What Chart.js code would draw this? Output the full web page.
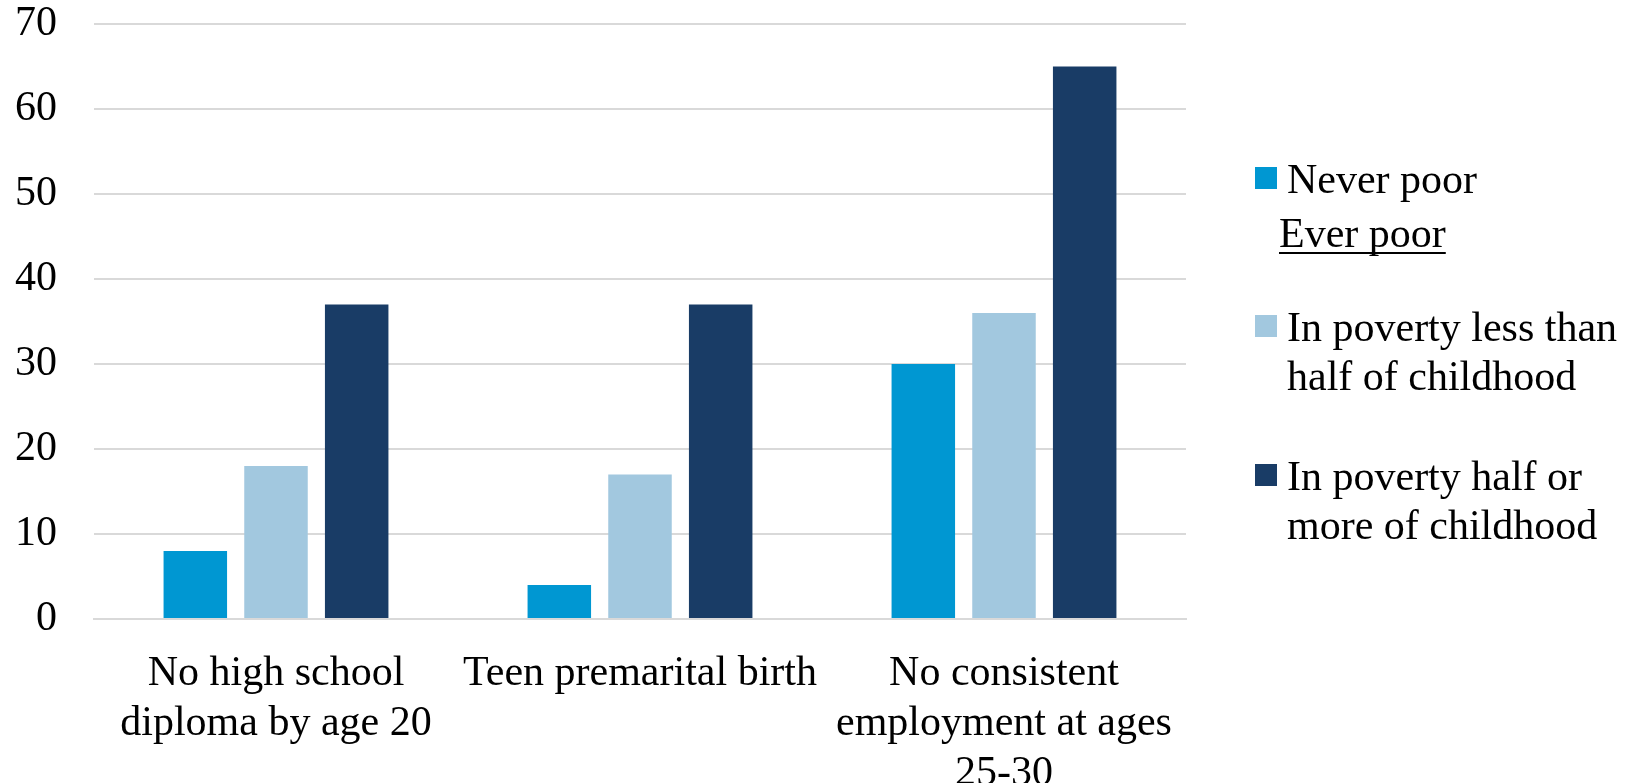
<!DOCTYPE html>
<html>
<head>
<meta charset="utf-8">
<script src="https://cdn.jsdelivr.net/npm/chart.js@4/dist/chart.umd.min.js"></script>
<style>
  html, body { margin: 0; padding: 0; background: #ffffff; overflow: hidden; }
  #wrap { width: 1632px; height: 783px; position: relative; }
</style>
</head>
<body>
<div id="wrap"><canvas id="chart" width="1632" height="783"></canvas></div>
<script>
// Outcome categories (multi-line tick labels)
const categories = [
  ['No high school', 'diploma by age 20'],
  ['Teen premarital birth'],
  ['No consistent', 'employment at ages', '25-30']
];

// Series values (percent)
const neverPoor = [8, 4, 30];
const lessThanHalf = [18, 17, 36];
const halfOrMore = [37, 37, 65];

// Series names as shown in the legend (line-wrapped)
const seriesNames = [
  ['Never poor'],
  ['In poverty less than', 'half of childhood'],
  ['In poverty half or', 'more of childhood']
];
const legendHeading = 'Ever poor';

// Y-axis ticks
const yTicks = [0, 10, 20, 30, 40, 50, 60, 70];

const colors = ['#0097d2', '#a2c8df', '#193c66'];
const FONT = '"Liberation Serif", "Times New Roman", serif';

// Legend drawn to the right of the plot: coloured squares, a heading, wrapped labels
const sideLegend = {
  id: 'sideLegend',
  afterDraw(chart) {
    const ctx = chart.ctx;
    const ds = chart.data.datasets;
    ctx.save();
    ctx.font = '42px ' + FONT;
    ctx.fillStyle = '#000000';
    ctx.textAlign = 'left';
    ctx.textBaseline = 'alphabetic';
    const boxX = 1255, textX = 1287, box = 22, lineGap = 49;
    const firstBaselines = [193, 341, 490];
    ds.forEach((d, i) => {
      const b = firstBaselines[i];
      ctx.fillStyle = d.backgroundColor;
      ctx.fillRect(boxX, b - 26, box, box);
      ctx.fillStyle = '#000000';
      d.label.forEach((line, k) => ctx.fillText(line, textX, b + k * lineGap));
    });
    // heading between the first and the remaining groups, underlined
    const hx = 1279, hb = 247;
    ctx.fillText(legendHeading, hx, hb);
    const w = ctx.measureText(legendHeading).width;
    ctx.fillRect(hx, hb + 5, w, 2);
    ctx.restore();
  }
};

new Chart(document.getElementById('chart'), {
  type: 'bar',
  data: {
    labels: categories,
    datasets: [
      { label: seriesNames[0], data: neverPoor, backgroundColor: colors[0] },
      { label: seriesNames[1], data: lessThanHalf, backgroundColor: colors[1] },
      { label: seriesNames[2], data: halfOrMore, backgroundColor: colors[2] }
    ]
  },
  options: {
    responsive: false,
    animation: false,
    devicePixelRatio: 1,
    layout: { padding: { top: 0, right: 446, bottom: 0, left: 0 } },
    datasets: {
      bar: { categoryPercentage: 0.665, barPercentage: 0.787, borderWidth: 0 }
    },
    plugins: {
      legend: { display: false },
      tooltip: { enabled: false },
      title: { display: false }
    },
    scales: {
      x: {
        grid: { display: false, drawTicks: false },
        border: { display: true, color: '#d9d9d9', width: 2 },
        ticks: {
          color: '#000000',
          font: { family: FONT, size: 42, lineHeight: 1.19 },
          padding: 30,
          maxRotation: 0,
          minRotation: 0,
          autoSkip: false
        },
        afterFit(scale) { scale.height = 164; }
      },
      y: {
        min: 0,
        max: 70,
        afterBuildTicks(scale) { scale.ticks = yTicks.map(v => ({ value: v })); },
        grid: {
          color: '#d9d9d9',
          lineWidth: 2,
          drawTicks: true,
          tickLength: 37,
          tickColor: 'rgba(0,0,0,0)'
        },
        border: { display: false },
        ticks: {
          color: '#000000',
          font: { family: FONT, size: 42, lineHeight: 1.138 },
          padding: 0
        },
        afterFit(scale) { scale.width = 94; }
      }
    }
  },
  plugins: [sideLegend]
});
</script>
</body>
</html>
